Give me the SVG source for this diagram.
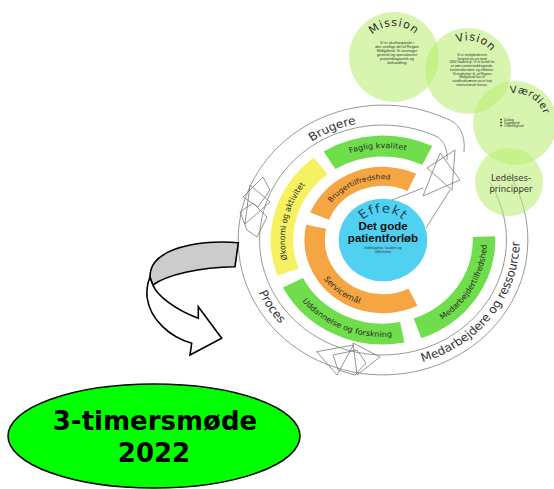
<svg xmlns="http://www.w3.org/2000/svg" width="554" height="489" viewBox="0 0 554 489">
<style>
.band{fill:none;stroke-linecap:butt}
.orange{stroke:#f5a642;stroke-width:20}
.green{stroke:#6fdd4c;stroke-width:22}
.yellow{stroke:#f5f160;stroke-width:22}
.ringline{fill:none;stroke:#8a8a8a;stroke-width:0.9}
.arr{fill:none;stroke:#7a7a7a;stroke-width:0.8;stroke-linejoin:round}
.bt{font-family:"DejaVu Sans",sans-serif;font-size:8px;fill:#2a2a2a}
.ot{font-family:"DejaVu Sans",sans-serif;font-size:12px;fill:#333}
.bub{fill:#b8ec6e;fill-opacity:0.55}
.title{font-family:"DejaVu Sans",sans-serif;font-size:11px;fill:#2a2a2a;letter-spacing:1px}
.tiny{font-family:"Liberation Sans",sans-serif;fill:#333;text-anchor:middle}
</style>
<defs>
<path id="pBrugere" d="M -118.88,38.63 A 125 125 0 0 1 110.37,-58.68"/>
<path id="pProces" d="M -119.18,-61.25 A 134 134 0 0 0 6.54,133.84"/>
<path id="pMedres" d="M 30.15,130.57 A 134 134 0 0 0 133.82,-7.01"/>
<path id="pFaglig" d="M -96.94,3.39 A 97 97 0 0 1 96.76,-6.77"/>
<path id="pBrugtilf" d="M -60.14,21.89 A 64 64 0 0 1 57.52,-28.06"/>
<path id="pService" d="M -61.49,35.5 A 71 71 0 0 0 -17.18,68.89"/>
<path id="pOkonomi" d="M -24.85,92.73 A 96 96 0 0 1 16.67,-94.54"/>
<path id="pUddan" d="M -81.46,61.38 A 102 102 0 0 0 12.43,101.24"/>
<path id="pMedtilf" d="M 46.31,90.88 A 102 102 0 0 0 101.61,-8.89"/>
<path id="pEffekt" d="M -25.11,-14.5 A 29 29 0 0 1 25.11,-14.5"/>
<path id="pMission" d="M 363,57 A 31 31 0 0 1 425,57"/>
<path id="pVision" d="M 438.06,62.98 A 31 31 0 0 1 497.94,79.02"/>
<path id="pVaerdier" d="M 489.56,107.10 A 30 30 0 0 1 540.44,138.90"/>
</defs>

<g id="wheel">
<g transform="translate(383,240) scale(1.02,0.95)">
<path class="ringline" d="M 62.25,-127.63 A 142 142 0 1 0 122.98,-71"/>
<path class="ringline" d="M 53.04,-108.75 A 121 121 0 1 0 104.79,-60.5"/>
<circle r="43.5" fill="#50d1f1"/>
<path class="band orange" d="M 28.32,-60.72 A 67 67 0 0 0 -62.12,-25.10"/>
<path class="band orange" d="M -65.54,-13.93 A 67 67 0 0 0 29.37,60.22"/>
<path class="band green" d="M 43.40,-88.98 A 99 99 0 0 0 -52.46,-83.96"/>
<path class="band yellow" d="M -60.95,-78.01 A 99 99 0 0 0 -93.03,33.86"/>
<path class="band green" d="M -88.21,44.95 A 99 99 0 0 0 18.89,97.18"/>
<path class="band green" d="M 33.86,93.03 A 99 99 0 0 0 98.94,-3.46"/>
<text class="ot"><textPath href="#pBrugere" startOffset="50%" text-anchor="middle">Brugere</textPath></text>
<text class="ot"><textPath href="#pProces" startOffset="50%" text-anchor="middle">Proces</textPath></text>
<text class="ot"><textPath href="#pMedres" startOffset="50%" text-anchor="middle">Medarbejdere og ressourcer</textPath></text>
<text class="bt"><textPath href="#pFaglig" startOffset="50%" text-anchor="middle">Faglig kvalitet</textPath></text>
<text class="bt" style="font-size:7.5px"><textPath href="#pBrugtilf" startOffset="50%" text-anchor="middle">Brugertilfredshed</textPath></text>
<text class="bt"><textPath href="#pService" startOffset="50%" text-anchor="middle">Servicemål</textPath></text>
<text class="bt"><textPath href="#pOkonomi" startOffset="50%" text-anchor="middle">Økonomi og aktivitet</textPath></text>
<text class="bt"><textPath href="#pUddan" startOffset="50%" text-anchor="middle">Uddannelse og forskning</textPath></text>
<text class="bt"><textPath href="#pMedtilf" startOffset="50%" text-anchor="middle">Medarbejdertilfredshed</textPath></text>
<text style="font-family:'DejaVu Sans',sans-serif;font-size:13px;fill:#17435e;letter-spacing:1px"><textPath href="#pEffekt" startOffset="50%" text-anchor="middle">Effekt</textPath></text>
</g>
<text x="383" y="229.5" text-anchor="middle" style="font-family:'Liberation Sans',sans-serif;font-weight:bold;font-size:11.5px;fill:#111">Det gode</text>
<text x="383" y="242" text-anchor="middle" style="font-family:'Liberation Sans',sans-serif;font-weight:bold;font-size:11.5px;fill:#111">patientforløb</text>
<text class="tiny" x="383" y="249" style="font-size:3.6px">Inddragelse, kvalitet og</text>
<text class="tiny" x="383" y="253" style="font-size:3.6px">effektivitet</text>
<!-- ring arrow shapes -->
<path class="ringline" d="M 446.5,118.7 C 458,122 466,134 464,152 M 437.1,136.7 C 444,141 448,150 447,160"/>
<polygon class="arr" points="427,168 455,150 452,190"/>
<polygon class="arr" points="440,153 460,180 423,196"/>
<path class="ringline" d="M 423,188 L 392,200 M 450,190 L 426,228"/>
<polygon class="arr" points="243,197 263,177 270,190 258,207"/>
<polygon class="arr" points="250,185 270,202 245,224"/>
<polygon class="arr" points="240,212 253,203 267,217 257,237 247,230"/>
<polygon class="arr" points="316.7,351.7 353.3,345 337,375"/>
<polygon class="arr" points="353,343 380,357 357,375"/>
<polygon class="arr" points="333,355 357,350 366,363 355,375 338,370"/>
</g>

<g id="node-mission">
<circle class="bub" cx="394" cy="57" r="45"/>
<text class="title"><textPath href="#pMission" startOffset="50%" text-anchor="middle">Mission</textPath></text>
<g class="tiny" style="font-size:3.8px">
<text x="397" y="44">Vi er akuthospitalet i</text>
<text x="397" y="48">den vestlige del af Region</text>
<text x="397" y="52">Midtjylland. Vi varetager</text>
<text x="397" y="56">generel og specialiseret</text>
<text x="397" y="60">patientdiagnostik og</text>
<text x="397" y="64">-behandling.</text>
</g>
</g>

<g id="node-vision">
<circle class="bub" cx="468" cy="71" r="43"/>
<text class="title"><textPath href="#pVision" startOffset="50%" text-anchor="middle">Vision</textPath></text>
<g class="tiny" style="font-size:3.4px">
<text x="472" y="56">Vi er mulighedernes</text>
<text x="472" y="59.7">hospital på vej mod</text>
<text x="472" y="63.4">DNV-Gødstrup. Vi er kendt for</text>
<text x="472" y="67.1">at være patientinddragende,</text>
<text x="472" y="70.8">kvalitetsbevidste og effektive.</text>
<text x="472" y="74.5">Vi medvirker til, at Region</text>
<text x="472" y="78.2">Midtjylland har et</text>
<text x="472" y="81.9">sundhedsvæsen på et højt</text>
<text x="472" y="85.6">internationalt niveau.</text>
</g>
</g>

<g id="node-vaerdier">
<circle class="bub" cx="515" cy="123" r="42"/>
<text class="title" style="font-size:10px;letter-spacing:0.5px"><textPath href="#pVaerdier" startOffset="50%" text-anchor="middle">Værdier</textPath></text>
<g style="font-family:'Liberation Sans',sans-serif;font-size:3.4px;fill:#333">
<rect x="500.3" y="118.7" width="1.6" height="1.6" fill="#333"/>
<rect x="500.3" y="121.7" width="1.6" height="1.6" fill="#333"/>
<rect x="500.3" y="124.7" width="1.6" height="1.6" fill="#333"/>
<text x="504" y="120.7">Dialog</text>
<text x="504" y="123.7">Dygtighed</text>
<text x="504" y="126.7">Ordentlighed</text>
</g>
</g>

<g id="node-ledelse">
<circle class="bub" cx="509" cy="182" r="34"/>
<text x="511" y="181" text-anchor="middle" style="font-family:'DejaVu Sans',sans-serif;font-size:8.5px;fill:#333">Ledelses-</text>
<text x="511" y="192" text-anchor="middle" style="font-family:'DejaVu Sans',sans-serif;font-size:8.5px;fill:#333">principper</text>
</g>

<g id="connectors">
<path d="M 153,285 C 157,296 176,310 198.3,318.3 L 198.3,306.7 L 221.7,338.3 L 190,355 L 191.7,343.3 C 170,337 150,320 147,297 C 146.5,290 148,282 150,277 Z" fill="#fff" stroke="#000" stroke-width="1.6" stroke-linejoin="miter"/>
<path d="M 238.3,242.7 C 205,240 168,246 155,262 C 151,267 150,272 150,277 L 153,285 C 166,275 200,267 235,266.7 Z" fill="#cccccc" stroke="#000" stroke-width="1.6"/>
</g>

<g id="node-meeting">
<ellipse cx="154" cy="436" rx="146" ry="52" fill="#00ff00" stroke="#000" stroke-width="1.5"/>
<text x="155" y="430" text-anchor="middle" style="font-family:'DejaVu Sans',sans-serif;font-weight:bold;font-size:26px;fill:#000">3-timersmøde</text>
<text x="154" y="462" text-anchor="middle" style="font-family:'DejaVu Sans',sans-serif;font-weight:bold;font-size:26px;fill:#000">2022</text>
</g>
</svg>
